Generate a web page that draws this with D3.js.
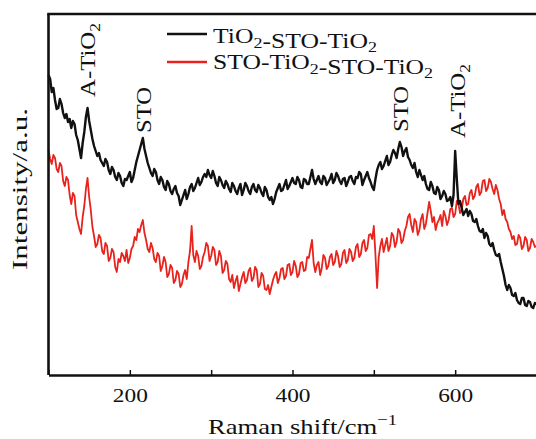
<!DOCTYPE html>
<html>
<head>
<meta charset="utf-8">
<script src="https://cdn.jsdelivr.net/npm/d3@7"></script>
<style>
  body { margin: 0; background: #fff; }
  svg { display: block; }
  text { font-family: "Liberation Serif", "DejaVu Serif", serif; fill: #111; }
</style>
</head>
<body>
<div id="chart"></div>
<script>
// Raman shift grid (cm-1), one reading every 2 cm-1, 100..700
const ramanShift = d3.range(100, 701, 2);

// TiO2-STO-TiO2 (black), a.u.  (20 readings = 40 cm-1 per row)
const triLayer = [
  300,296,283,287,275,266,267,276,271,262,257,261,253,256,247,254,251,240,235,226,
  217,232,243,258,267,254,245,236,229,224,219,222,215,212,209,216,213,205,201,208,
  205,198,195,202,199,192,189,196,195,199,203,193,197,205,213,219,225,231,237,226,
  219,212,207,202,199,206,203,195,191,198,195,188,185,194,191,184,181,186,189,182,
  179,170,175,180,185,176,181,188,191,184,187,192,197,190,193,198,201,198,205,200,
  197,204,199,192,189,198,195,190,187,194,191,186,183,192,189,184,181,187,191,180,
  185,192,189,184,181,188,191,185,183,190,187,182,179,188,185,178,175,178,171,176,
  183,187,191,184,185,190,195,186,189,193,197,192,191,198,195,188,187,196,195,191,
  191,198,205,196,191,195,199,193,191,199,197,190,193,196,201,192,195,202,199,194,
  191,196,197,189,193,198,199,194,191,198,197,203,201,190,195,199,203,197,193,188,
  185,196,205,210,213,206,209,214,219,210,213,220,225,222,217,226,233,228,219,224,
  227,218,215,210,207,212,203,198,205,200,195,199,191,186,185,193,189,182,181,188,
  185,176,179,184,181,174,175,178,169,180,224,196,171,174,167,160,163,166,159,164,
  161,154,153,156,149,144,143,146,137,142,139,131,129,132,125,120,119,121,113,106,
  99,90,85,90,87,80,79,82,75,72,71,77,77,70,69,74,73,68,67,72,
  71
];

// STO-TiO2-STO-TiO2 (red)
const quadLayer = [
  225,216,211,220,217,206,203,212,209,194,189,198,195,180,171,182,179,160,153,146,
  141,158,169,186,197,178,165,148,139,128,131,140,137,124,121,132,129,114,117,126,
  123,108,103,116,113,122,119,114,125,112,117,126,129,138,135,146,143,150,155,142,
  135,126,123,132,127,116,113,122,119,104,109,118,113,98,101,110,107,92,95,104,
  101,88,91,100,105,96,113,124,149,120,113,124,119,106,109,118,123,132,129,114,
  119,128,125,110,113,124,119,102,105,114,111,96,93,100,87,94,99,84,91,98,
  103,92,95,104,107,94,97,108,105,88,91,102,99,86,85,90,81,88,95,100,
  103,92,97,106,107,96,99,110,111,100,103,114,109,98,101,112,113,104,105,118,
  117,126,135,112,103,110,113,100,107,120,117,106,109,118,121,110,113,124,119,108,
  111,122,125,112,115,126,123,114,117,128,131,118,121,132,135,124,127,140,141,136,
  149,120,87,118,129,136,123,130,137,124,129,142,139,128,133,146,143,132,135,144,
  149,158,161,150,143,156,153,140,145,156,161,146,151,162,173,164,153,158,145,152,
  155,160,149,164,159,150,155,166,167,158,161,174,171,162,165,176,179,170,171,182,
  185,176,179,188,191,180,183,194,195,184,187,196,193,186,181,190,185,176,171,160,
  165,156,153,146,143,136,139,130,131,140,137,126,129,138,135,124,127,136,133,128,
  129
];

const seriesNames = ["TiO₂-STO-TiO₂", "STO-TiO₂-STO-TiO₂"];
const seriesColors = ["#111111", "#e8231d"];
const xTicks = [100, 200, 300, 400, 500, 600, 700];
const xTickLabels = [200, 400, 600];

// peak labels: shift, intensity where the label starts
const peakNames = ["A-TiO₂", "STO", "STO", "A-TiO₂"];
const peakShift = [148, 217, 533, 603];
const peakBase = [278, 242, 243, 237];

const width = 536, height = 439;
const margin = {top: 14, right: -0.5, bottom: 64, left: 48.5};

const svg = d3.select("#chart").append("svg")
  .attr("width", width)
  .attr("height", height);

const x = d3.scaleLinear()
  .domain([100, 700])
  .range([margin.left, width - margin.right]);

const y = d3.scaleLinear()
  .domain([0, 361])
  .range([height - margin.bottom, margin.top]);

// write text made of pieces, subscripts as smaller dropped tspans
function richText(sel, parts, size) {
  parts.forEach(function(p) {
    if (p[1] == "sub") {
      sel.append("tspan").attr("font-size", size * 0.7).attr("dy", size * 0.22).text(p[0]);
      sel.append("tspan").attr("dy", -size * 0.22).text("");
    } else if (p[1] == "sup") {
      sel.append("tspan").attr("font-size", size * 0.7).attr("dy", -size * 0.4).text(p[0]);
    } else {
      sel.append("tspan").text(p[0]);
    }
  });
}
function splitChem(s) {
  // TiO₂ -> ["TiO"], ["2","sub"]
  const out = [];
  s.split("₂").forEach(function(piece, i, arr) {
    if (piece) out.push([piece]);
    if (i < arr.length - 1) out.push(["2", "sub"]);
  });
  return out;
}

// spectra
const line = d3.line()
  .x(function(d, i) { return x(ramanShift[i]); })
  .y(function(d) { return y(d); });

svg.append("path")
  .datum(quadLayer)
  .attr("fill", "none")
  .attr("stroke", seriesColors[1])
  .attr("stroke-width", 1.8)
  .attr("stroke-linejoin", "round")
  .attr("d", line);

svg.append("path")
  .datum(triLayer)
  .attr("fill", "none")
  .attr("stroke", seriesColors[0])
  .attr("stroke-width", 2.4)
  .attr("stroke-linejoin", "round")
  .attr("d", line);

// frame: left, top, bottom (right edge falls outside the picture)
const frame = svg.append("g").attr("stroke", "#111").attr("stroke-width", 2.6);
frame.append("line").attr("x1", x(100)).attr("x2", x(100)).attr("y1", y(361)).attr("y2", y(0));
frame.append("line").attr("x1", x(100) - 1.3).attr("x2", width).attr("y1", y(361)).attr("y2", y(361));

const xAxis = svg.append("g")
  .attr("transform", "translate(0," + y(0) + ")")
  .call(d3.axisBottom(x)
    .tickValues(xTicks)
    .tickSizeInner(-5)
    .tickSizeOuter(0)
    .tickFormat(function(d) { return xTickLabels.indexOf(d) >= 0 ? d : ""; }));
xAxis.select(".domain").attr("stroke", "#111").attr("stroke-width", 2.6);
xAxis.selectAll(".tick line").attr("stroke", "#111").attr("stroke-width", 1.5);
xAxis.selectAll(".tick text")
  .attr("dy", null)
  .attr("y", 27)
  .attr("font-family", "Liberation Serif, DejaVu Serif, serif")
  .attr("font-size", 19)
  .attr("fill", "#111")
  .attr("textLength", function(d) { return xTickLabels.indexOf(d) >= 0 ? 35 : null; })
  .attr("lengthAdjust", "spacingAndGlyphs");

// axis titles
const xTitle = svg.append("text")
  .attr("x", 302.5)
  .attr("y", 434)
  .attr("text-anchor", "middle")
  .attr("font-size", 22)
  .attr("textLength", 189)
  .attr("lengthAdjust", "spacingAndGlyphs");
richText(xTitle, [["Raman shift/cm"], ["−1", "sup"]], 22);

svg.append("text")
  .attr("transform", "translate(27,189) rotate(-90)")
  .attr("text-anchor", "middle")
  .attr("font-size", 22)
  .attr("textLength", 162)
  .attr("lengthAdjust", "spacingAndGlyphs")
  .text("Intensity/a.u.");

// legend
const legend = svg.append("g");
const legendRows = [{y: 34, base: 43, len: 164}, {y: 62, base: 69, len: 220}];
seriesNames.forEach(function(name, i) {
  legend.append("line")
    .attr("x1", 167).attr("x2", 207)
    .attr("y1", legendRows[i].y).attr("y2", legendRows[i].y)
    .attr("stroke", seriesColors[i])
    .attr("stroke-width", 2.4);
  const t = legend.append("text")
    .attr("x", 213)
    .attr("y", legendRows[i].base)
    .attr("font-size", 21)
    .attr("textLength", legendRows[i].len)
    .attr("lengthAdjust", "spacingAndGlyphs");
  richText(t, splitChem(name), 21);
});

// peak annotations, vertical text reading upward
peakNames.forEach(function(name, i) {
  const t = svg.append("text")
    .attr("transform", "translate(" + x(peakShift[i]) + "," + y(peakBase[i]) + ") rotate(-90)")
    .attr("dy", "0.34em")
    .attr("font-size", 22)
    .attr("textLength", name == "STO" ? 46 : 74)
    .attr("lengthAdjust", "spacingAndGlyphs");
  richText(t, splitChem(name), 22);
});
</script>
</body>
</html>
